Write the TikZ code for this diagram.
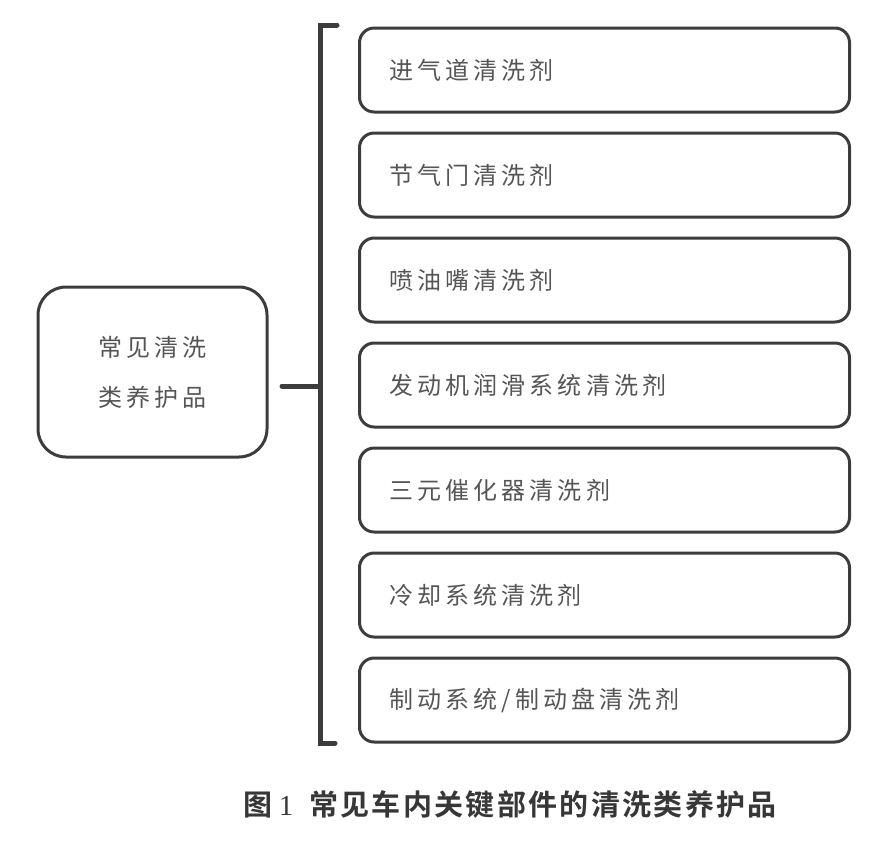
\documentclass[tikz,border=0pt]{standalone}
\usepackage{fontspec}
\newfontfamily\cjk[LetterSpace=17]{Noto Sans CJK SC}
\newfontfamily\cjkcap[LetterSpace=8]{Noto Sans CJK SC Bold}
\newfontfamily\capnum{Liberation Serif}
\usetikzlibrary{positioning}
\definecolor{edge}{RGB}{60,60,60}
\definecolor{ink}{RGB}{85,85,85}
\definecolor{capink}{RGB}{55,55,55}

\begin{document}
\begin{tikzpicture}[x=0.75pt,y=-0.75pt,line width=2.25pt,draw=edge,
    item/.style={draw=edge,rounded corners=11pt,minimum height=63pt,text width=322.5pt,
        inner xsep=22.5pt,align=left,font=\cjk\fontsize{18pt}{22pt}\selectfont,text=ink},
    root/.style={draw=edge,rounded corners=21pt,minimum width=171.75pt,minimum height=127.5pt,
        align=center,font=\cjk\fontsize{18pt}{37.5pt}\selectfont,text=ink},
    bracket/.style={line width=3.75pt,line cap=round}]
    \useasboundingbox (0,0) rectangle (870,846);
    \node[root] (root) at (152.5,372) {常见清洗\\类养护品};
    \node[item,anchor=west] (b1) at (358,70) {进气道清洗剂};
    \node[item,below=13.5pt of b1] (b2) {节气门清洗剂};
    \node[item,below=13.5pt of b2] (b3) {喷油嘴清洗剂};
    \node[item,below=13.5pt of b3] (b4) {发动机润滑系统清洗剂};
    \node[item,below=13.5pt of b4] (b5) {三元催化器清洗剂};
    \node[item,below=13.5pt of b5] (b6) {冷却系统清洗剂};
    \node[item,below=13.5pt of b6] (b7) {制动系统/制动盘清洗剂};
    \coordinate (btop) at (337,25);
    \coordinate (bbot) at (335,743);
    \coordinate (hub) at (320,386);
    \coordinate (stub) at (282,386);
    \draw[bracket] (btop) -- (320,25) -- (320,743) -- (bbot);
    \draw[line width=3.75pt,line cap=round] (stub) -- (hub);
    \node[text=capink] (cap) at (510,804)
        {\cjkcap\fontsize{21.75pt}{26pt}\selectfont 图{\capnum\hspace{5pt}1}\hspace{12pt}常见车内关键部件的清洗类养护品};
\end{tikzpicture}
\end{document}
